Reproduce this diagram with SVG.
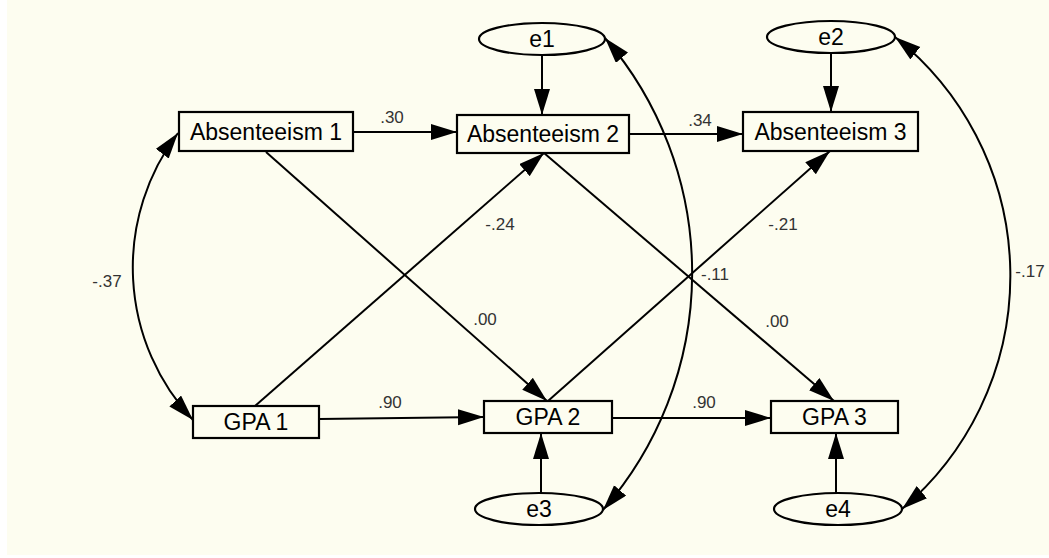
<svg xmlns="http://www.w3.org/2000/svg" width="1049" height="558" viewBox="0 0 1049 558">
  <style>
    .node { fill: #fdfdf0; stroke: #000; stroke-width: 2.2; }
    .ntext { font-family: "Liberation Sans", Arial, sans-serif; font-size: 23px; fill: #000; text-anchor: middle; }
    .lbl { font-family: "Liberation Sans", Arial, sans-serif; font-size: 17px; fill: #333; text-anchor: middle; }
    .edge { fill: none; stroke: #000; stroke-width: 2; }
  </style>
  <defs>
    <marker id="arr" markerUnits="userSpaceOnUse" markerWidth="27" markerHeight="17" refX="26" refY="8" orient="auto-start-reverse">
      <path d="M0,0 L26,8 L0,16 Z" fill="#000"/>
    </marker>
  </defs>
  <rect x="0" y="0" width="1049" height="558" fill="#ffffff"/>
  <rect x="7" y="0" width="1042" height="555" fill="#fdfdf0"/>

  <g id="connectors">
    <line class="edge" x1="354" y1="132" x2="457" y2="132" marker-end="url(#arr)"/>
    <line class="edge" x1="629" y1="134" x2="743" y2="134" marker-end="url(#arr)"/>
    <line class="edge" x1="319" y1="419" x2="484" y2="417" marker-end="url(#arr)"/>
    <line class="edge" x1="612" y1="418" x2="771" y2="418" marker-end="url(#arr)"/>
    <line class="edge" x1="542" y1="55" x2="542" y2="115" marker-end="url(#arr)"/>
    <line class="edge" x1="831" y1="53" x2="831" y2="112" marker-end="url(#arr)"/>
    <line class="edge" x1="541" y1="493" x2="541" y2="433" marker-end="url(#arr)"/>
    <line class="edge" x1="836" y1="493" x2="836" y2="433" marker-end="url(#arr)"/>
    <line class="edge" x1="266" y1="152" x2="547" y2="401" marker-end="url(#arr)"/>
    <line class="edge" x1="255" y1="406" x2="544" y2="153" marker-end="url(#arr)"/>
    <line class="edge" x1="544" y1="153" x2="834" y2="401" marker-end="url(#arr)"/>
    <line class="edge" x1="548" y1="401" x2="830" y2="151" marker-end="url(#arr)"/>
    <path class="edge" d="M178,133 A223,223 0 0,0 193,420" marker-start="url(#arr)" marker-end="url(#arr)"/>
    <path class="edge" d="M605,38 A360,360 0 0,1 603,510" marker-start="url(#arr)" marker-end="url(#arr)"/>
    <path class="edge" d="M895,37 A305,305 0 0,1 902,509" marker-start="url(#arr)" marker-end="url(#arr)"/>
  </g>

  <g id="labels">
    <text class="lbl" x="392" y="123">.30</text>
    <text class="lbl" x="700" y="126">.34</text>
    <text class="lbl" x="390" y="408">.90</text>
    <text class="lbl" x="704" y="408">.90</text>
    <text class="lbl" x="500" y="230">-.24</text>
    <text class="lbl" x="485" y="325">.00</text>
    <text class="lbl" x="783" y="230">-.21</text>
    <text class="lbl" x="715" y="280">-.11</text>
    <text class="lbl" x="777" y="327">.00</text>
    <text class="lbl" x="107" y="287">-.37</text>
    <text class="lbl" x="1030" y="277">-.17</text>
  </g>

  <g id="absenteeism1">
    <rect class="node" x="179" y="112" width="174" height="39"/>
    <text class="ntext" x="266" y="139.5">Absenteeism 1</text>
  </g>
  <g id="absenteeism2">
    <rect class="node" x="457" y="115" width="172" height="38"/>
    <text class="ntext" x="543" y="142">Absenteeism 2</text>
  </g>
  <g id="absenteeism3">
    <rect class="node" x="743" y="112" width="175" height="39"/>
    <text class="ntext" x="830.5" y="140">Absenteeism 3</text>
  </g>
  <g id="gpa1">
    <rect class="node" x="193" y="406" width="126" height="32"/>
    <text class="ntext" x="256" y="430">GPA 1</text>
  </g>
  <g id="gpa2">
    <rect class="node" x="484" y="401" width="128" height="32"/>
    <text class="ntext" x="548" y="425">GPA 2</text>
  </g>
  <g id="gpa3">
    <rect class="node" x="771" y="401" width="127" height="32"/>
    <text class="ntext" x="834.5" y="425">GPA 3</text>
  </g>
  <g id="e1">
    <ellipse class="node" cx="542" cy="39" rx="63" ry="16"/>
    <text class="ntext" x="542" y="47">e1</text>
  </g>
  <g id="e2">
    <ellipse class="node" cx="831" cy="37" rx="64" ry="16"/>
    <text class="ntext" x="831" y="45">e2</text>
  </g>
  <g id="e3">
    <ellipse class="node" cx="539" cy="509" rx="64" ry="16"/>
    <text class="ntext" x="539" y="517">e3</text>
  </g>
  <g id="e4">
    <ellipse class="node" cx="838" cy="509" rx="64" ry="16"/>
    <text class="ntext" x="838" y="517">e4</text>
  </g>
</svg>
